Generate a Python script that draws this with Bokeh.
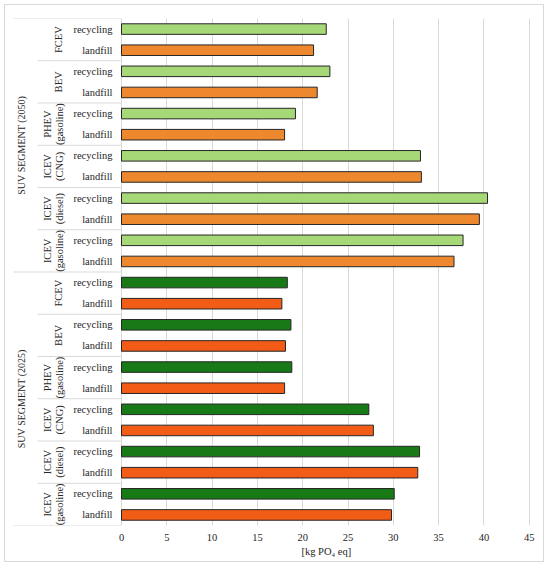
import math
from bokeh.plotting import figure
from bokeh.models import ColumnDataSource, FixedTicker, Range1d, Title
from bokeh.core.properties import value
from bokeh.embed import file_html
from bokeh.resources import INLINE

# ---------------- data ----------------
segments = ["SUV SEGMENT (2025)", "SUV SEGMENT (2050)"]          # bottom to top
vehicles = [("ICEV", "(gasoline)"), ("ICEV", "(diesel)"), ("ICEV", "(CNG)"),
            ("PHEV", "(gasoline)"), ("BEV",), ("FCEV",)]          # bottom to top inside a segment
scenarios = ["landfill", "recycling"]                            # bottom to top inside a vehicle
x_ticks = [0, 5, 10, 15, 20, 25, 30, 35, 40, 45]
x_title = "[kg PO\u2084 eq]"

v2025_landfill = [29.8, 32.7, 27.8, 18.0, 18.1, 17.7]
v2025_recycling = [30.1, 32.9, 27.3, 18.8, 18.7, 18.3]
v2050_landfill = [36.7, 39.5, 33.1, 18.0, 21.6, 21.2]
v2050_recycling = [37.7, 40.4, 33.0, 19.2, 23.0, 22.6]

values = {
    ("SUV SEGMENT (2025)", "landfill"): v2025_landfill,
    ("SUV SEGMENT (2025)", "recycling"): v2025_recycling,
    ("SUV SEGMENT (2050)", "landfill"): v2050_landfill,
    ("SUV SEGMENT (2050)", "recycling"): v2050_recycling,
}
colors = {
    ("SUV SEGMENT (2025)", "landfill"): "#f25c16",
    ("SUV SEGMENT (2025)", "recycling"): "#177a17",
    ("SUV SEGMENT (2050)", "landfill"): "#ee882e",
    ("SUV SEGMENT (2050)", "recycling"): "#a6d878",
}

# ---------------- layout helpers ----------------
PX_PER_UNIT = 9.06          # horizontal scale
ZERO_PX = 108               # distance from frame left to x=0 (pixels)
FRAME_W = 527
FRAME_H = 507
def px(d):                  # pixel offset from x=0 -> data units
    return d / PX_PER_UNIT

FONT = "Liberation Serif"
TXT = "#262626"
n_rows = len(segments) * len(vehicles) * len(scenarios)

bars = dict(y=[], right=[], color=[])
lvl1 = dict(x=[], y=[], text=[])
for si, seg in enumerate(segments):
    for vi, veh in enumerate(vehicles):
        for ci, sc in enumerate(scenarios):
            row = si * len(vehicles) * 2 + vi * 2 + ci
            bars["y"].append(row + 0.5)
            bars["right"].append(values[(seg, sc)][vi])
            bars["color"].append(colors[(seg, sc)])
            lvl1["x"].append(px(-9))
            lvl1["y"].append(row + 0.5)
            lvl1["text"].append(sc)

x_start = px(-ZERO_PX)
x_end = x_start + px(FRAME_W)

p = figure(width=540, height=558, output_backend="svg", toolbar_location=None,
           x_range=Range1d(x_start, x_end), y_range=Range1d(0, n_rows),
           min_border_left=8, min_border_right=5, min_border_top=13, min_border_bottom=38)
p.styles = {"border": "1px solid #d9d9d9", "margin-left": "4px", "margin-top": "4px"}
p.outline_line_color = None
p.background_fill_color = "white"
p.border_fill_color = "white"

# grid
p.xgrid.ticker = FixedTicker(ticks=x_ticks)
p.xgrid.grid_line_color = "#d9d9d9"
p.xgrid.grid_line_width = 1
p.ygrid.grid_line_color = None

# axes
p.yaxis.visible = False
p.xaxis.ticker = FixedTicker(ticks=x_ticks)
p.xaxis.axis_line_color = None
p.xaxis.major_tick_line_color = None
p.xaxis.minor_tick_line_color = None
p.xaxis.major_tick_out = 0
p.xaxis.major_label_standoff = 8
p.xaxis.major_label_text_font = FONT
p.xaxis.major_label_text_font_size = "10.5px"
p.xaxis.major_label_text_color = TXT

# bars
src = ColumnDataSource(bars)
p.hbar(y="y", right="right", left=0, height=0.5, fill_color="color",
       line_color="#262626", line_width=1, source=src)

# separator lines in the category area
sep = dict(x0=[], x1=[], y0=[], y1=[])
for si in range(len(segments) + 1):
    yy = si * len(vehicles) * 2
    sep["x0"].append(x_start); sep["x1"].append(0); sep["y0"].append(yy); sep["y1"].append(yy)
for si in range(len(segments)):
    for vi in range(1, len(vehicles)):
        yy = si * len(vehicles) * 2 + vi * 2
        sep["x0"].append(px(-84)); sep["x1"].append(0); sep["y0"].append(yy); sep["y1"].append(yy)
p.segment(x0="x0", y0="y0", x1="x1", y1="y1", source=ColumnDataSource(sep),
          line_color="#d9d9d9", line_width=1)

# level-1 labels
p.text(x="x", y="y", text="text", source=ColumnDataSource(lvl1),
       text_font=value(FONT), text_font_size="10.5px", text_color=TXT,
       text_align="right", text_baseline="middle")

# level-2 labels (rotated)
lvl2 = dict(x=[], y=[], text=[])
for si in range(len(segments)):
    for vi, veh in enumerate(vehicles):
        yc = si * len(vehicles) * 2 + vi * 2 + 1
        if len(veh) == 1:
            lvl2["x"].append(px(-63.5)); lvl2["y"].append(yc); lvl2["text"].append(veh[0])
        else:
            lvl2["x"].append(px(-74.5)); lvl2["y"].append(yc); lvl2["text"].append(veh[0])
            lvl2["x"].append(px(-62)); lvl2["y"].append(yc); lvl2["text"].append(veh[1])
p.text(x="x", y="y", text="text", source=ColumnDataSource(lvl2), angle=math.pi / 2,
       text_font=value(FONT), text_font_size="10.5px", text_color=TXT,
       text_align="center", text_baseline="middle")

# level-3 labels (rotated)
lvl3 = dict(x=[px(-100)] * len(segments),
            y=[si * len(vehicles) * 2 + len(vehicles) for si in range(len(segments))],
            text=segments)
p.text(x="x", y="y", text="text", source=ColumnDataSource(lvl3), angle=math.pi / 2,
       text_font=value(FONT), text_font_size="10px", text_color=TXT,
       text_align="center", text_baseline="middle")

# axis title, placed under the middle of the value scale
p.add_layout(Title(text=x_title, align="left", offset=288, standoff=0,
                   text_font=FONT, text_font_size="10.5px", text_font_style="normal",
                   text_color=TXT), "below")

open("out.html", "w").write(file_html(p, INLINE))
